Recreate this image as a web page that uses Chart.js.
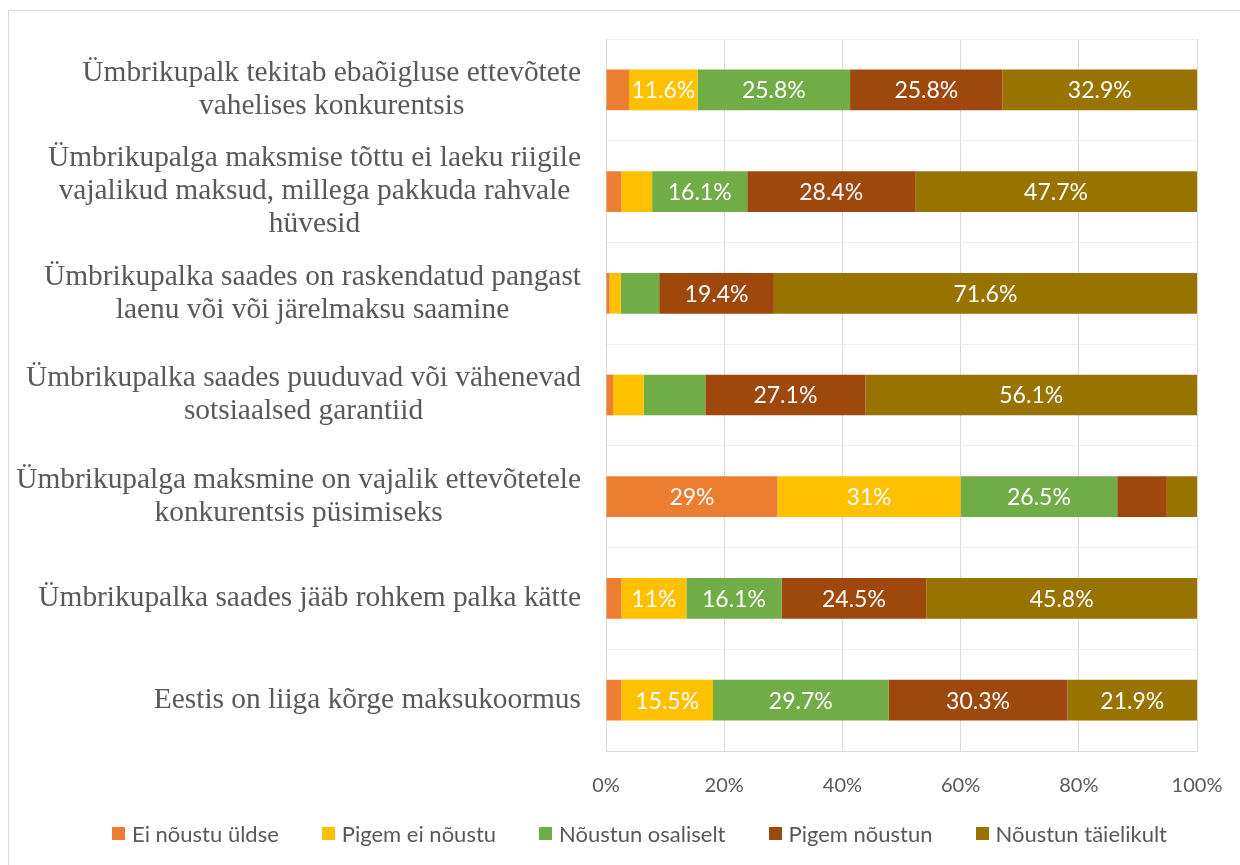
<!DOCTYPE html>
<html>
<head>
<meta charset="utf-8">
<script src="https://cdn.jsdelivr.net/npm/chart.js@4.4.0/dist/chart.umd.min.js"></script>
<style>
  html, body { margin: 0; padding: 0; background: #fff; overflow: hidden; }
  #wrap { position: relative; width: 1240px; height: 865px; }
  #frame { position: absolute; left: 8px; top: 10px; width: 1240px; height: 870px; border: 1px solid #d9d9d9; box-sizing: border-box; }
  canvas { position: absolute; left: 0; top: 0; }
  #legend { position: absolute; left: 112px; top: 820px; height: 26px; display: flex; align-items: center;
            font-family: Lato, sans-serif; font-size: 22px; color: #595959; white-space: nowrap; }
  #legend .item { display: flex; align-items: center; margin-right: 43px; }
  #legend .box { width: 13px; height: 13px; margin-right: 7px; }
</style>
</head>
<body>
<div id="wrap">
  <div id="frame"></div>
  <canvas id="myChart" width="1240" height="865"></canvas>
  <div id="legend"></div>
</div>
<script>
// categories, top to bottom (already split into lines like the original)
var categories = [
  ['Ümbrikupalk tekitab ebaõigluse ettevõtete', 'vahelises konkurentsis'],
  ['Ümbrikupalga maksmise tõttu ei laeku riigile', 'vajalikud maksud, millega pakkuda rahvale', 'hüvesid'],
  ['Ümbrikupalka saades on raskendatud pangast', 'laenu või või järelmaksu saamine'],
  ['Ümbrikupalka saades puuduvad või vähenevad', 'sotsiaalsed garantiid'],
  ['Ümbrikupalga maksmine on vajalik ettevõtetele', 'konkurentsis püsimiseks'],
  ['Ümbrikupalka saades jääb rohkem palka kätte'],
  ['Eestis on liiga kõrge maksukoormus']
];

var eiNoustuYldse = [3.9, 2.6, 0.6, 1.2, 29, 2.6, 2.6];
var pigemEiNoustu = [11.6, 5.2, 1.9, 5.2, 31, 11, 15.5];
var noustunOsaliselt = [25.8, 16.1, 6.5, 10.4, 26.5, 16.1, 29.7];
var pigemNoustun = [25.8, 28.4, 19.4, 27.1, 8.4, 24.5, 30.3];
var noustunTaielikult = [32.9, 47.7, 71.6, 56.1, 5.1, 45.8, 21.9];

var tickLabels = ['0%', '20%', '40%', '60%', '80%', '100%'];

var grey = '#595959';

// category labels: each block right aligned, lines centred within the block
var yLabelPlugin = {
  id: 'yLabels',
  afterDraw: function(chart) {
    var ctx = chart.ctx;
    var yScale = chart.scales.y;
    ctx.save();
    ctx.font = '29.4px "Liberation Serif"';
    ctx.fillStyle = grey;
    ctx.textAlign = 'center';
    ctx.textBaseline = 'middle';
    var right = chart.chartArea.left - 25;
    categories.forEach(function(lines, i) {
      var w = Math.max.apply(null, lines.map(function(l) { return ctx.measureText(l).width; }));
      var cx = right - w / 2;
      var cy = yScale.getPixelForValue(i);
      lines.forEach(function(l, j) {
        ctx.fillText(l, cx, cy + (j - (lines.length - 1) / 2) * 33);
      });
    });
    ctx.restore();
  }
};

// white value labels inside the bigger segments
var valueLabelPlugin = {
  id: 'valueLabels',
  afterDatasetsDraw: function(chart) {
    var ctx = chart.ctx;
    ctx.save();
    ctx.font = '23px Lato';
    ctx.fillStyle = '#ffffff';
    ctx.textAlign = 'center';
    ctx.textBaseline = 'middle';
    chart.data.datasets.forEach(function(ds, di) {
      var meta = chart.getDatasetMeta(di);
      meta.data.forEach(function(bar, i) {
        var v = ds.data[i];
        if (v < 11) return;
        ctx.fillText(v + '%', (bar.x + bar.base) / 2, bar.y + 1);
      });
    });
    ctx.restore();
  }
};

var ctx = document.getElementById('myChart').getContext('2d');

var myChart = new Chart(ctx, {
  type: 'bar',
  data: {
    labels: categories,
    datasets: [
      { label: 'Ei nõustu üldse', data: eiNoustuYldse, backgroundColor: '#ED7D31' },
      { label: 'Pigem ei nõustu', data: pigemEiNoustu, backgroundColor: '#FFC000' },
      { label: 'Nõustun osaliselt', data: noustunOsaliselt, backgroundColor: '#70AD47' },
      { label: 'Pigem nõustun', data: pigemNoustun, backgroundColor: '#9E480E' },
      { label: 'Nõustun täielikult', data: noustunTaielikult, backgroundColor: '#997300' }
    ]
  },
  options: {
    indexAxis: 'y',
    responsive: false,
    animation: false,
    barPercentage: 0.4,
    categoryPercentage: 1,
    layout: { padding: { left: 80, right: 43, top: 39, bottom: 54 } },
    scales: {
      x: {
        stacked: true,
        min: 0,
        max: 100,
        ticks: {
          stepSize: 20,
          padding: 10,
          color: grey,
          font: { family: 'Lato', size: 20 },
          callback: function(value, index) { return tickLabels[index]; }
        },
        // invisible tick marks push the labels down without widening the right padding
        grid: { color: '#d9d9d9', drawTicks: true, tickLength: 13, tickColor: 'rgba(0,0,0,0)' },
        border: { color: '#d9d9d9' },
        afterFit: function(scale) { scale.height = 60; }
      },
      y: {
        stacked: true,
        ticks: { display: false },
        grid: { color: '#eeeeee', drawTicks: false },
        border: { color: '#d9d9d9' },
        afterFit: function(scale) { scale.width = 526; }
      }
    },
    plugins: {
      tooltip: { enabled: false },
      legend: { display: false }
    }
  },
  plugins: [yLabelPlugin, valueLabelPlugin]
});

// legend in one row like the original, built from the datasets
var legendEl = document.getElementById('legend');
myChart.data.datasets.forEach(function(ds) {
  var item = document.createElement('div');
  item.className = 'item';
  var box = document.createElement('span');
  box.className = 'box';
  box.style.background = ds.backgroundColor;
  var txt = document.createElement('span');
  txt.textContent = ds.label;
  item.appendChild(box);
  item.appendChild(txt);
  legendEl.appendChild(item);
});
</script>
</body>
</html>
